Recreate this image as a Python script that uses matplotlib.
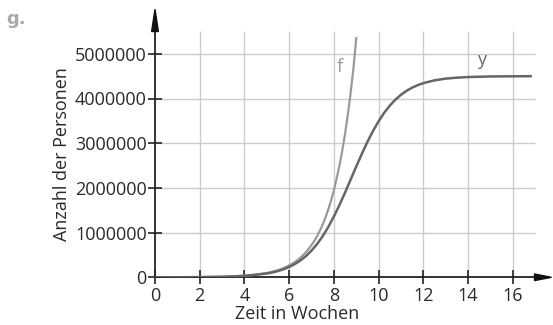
import matplotlib
matplotlib.use("Agg")
import matplotlib.pyplot as plt
from matplotlib.patches import Polygon

# Weeks and case counts for the exponential model f
f_weeks = [0, 1, 2, 3, 4, 4.5, 5, 5.25, 5.5, 5.75, 6, 6.25, 6.5, 6.75, 7, 7.125, 7.25,
           7.375, 7.5, 7.625, 7.75, 7.875, 8, 8.125, 8.25, 8.375, 8.5, 8.625, 8.75,
           8.875, 9.0]
f_people = [650, 1800, 4800, 13000, 36000, 58900, 97000, 124600, 160000, 205500,
            265000, 338900, 435000, 558700, 720000, 812900, 920000, 1044000, 1180000,
            1340000, 1520000, 1721000, 1950000, 2210000, 2500000, 2837000, 3210000,
            3643000, 4130000, 4678000, 5350000]

# Weeks and case counts for the logistic model y
y_weeks = [0, 1, 2, 3, 4, 5, 5.25, 5.5, 5.75, 6, 6.25, 6.5, 6.75, 7, 7.25, 7.5, 7.75,
           8, 8.25, 8.5, 8.75, 9, 9.25, 9.5, 9.75, 10, 10.25, 10.5, 10.75, 11, 11.25,
           11.5, 11.75, 12, 12.5, 13, 13.5, 14, 15, 16, 16.8]
y_people = [470, 1340, 3800, 10700, 30200, 84400, 109000, 140000, 180100, 231000,
            294900, 375000, 474700, 597000, 745000, 920000, 1126000, 1360000, 1618000,
            1896000, 2186000, 2478000, 2761000, 3030000, 3274000, 3490000, 3681000,
            3840000, 3974000, 4083000, 4172000, 4243000, 4299000, 4344000, 4406000,
            4444000, 4466000, 4480000, 4493000, 4497000, 4499000]

x_ticks = [0, 2, 4, 6, 8, 10, 12, 14, 16]
y_ticks = [0, 1000000, 2000000, 3000000, 4000000, 5000000]
y_tick_labels = ["0", "1000000", "2000000", "3000000", "4000000", "5000000"]

W, H = 553, 325
plt.rcParams["font.family"] = ["Open Sans", "DejaVu Sans"]
fig = plt.figure(figsize=(W / 100, H / 100), dpi=100)

left, right, bottom, top = 155, 553, 47.7, 320
ax = fig.add_axes([left / W, bottom / H, (right - left) / W, (top - bottom) / H])
px_x = 22.36      # pixels per week
px_y = 44.7e-6    # pixels per person
ax.set_xlim(0, (right - left) / px_x)
ax.set_ylim(0, (top - bottom) / px_y)

grid_c = "#cccccc"
x_end, y_end = 17, 5500000
for xv in x_ticks[1:]:
    ax.plot([xv, xv], [0, y_end], color=grid_c, lw=1.0, zorder=1, solid_capstyle="butt")
for yv in y_ticks[1:]:
    ax.plot([0, x_end], [yv, yv], color=grid_c, lw=1.0, zorder=1, solid_capstyle="butt")

ax.plot(f_weeks, f_people, color="#9a9a9a", lw=1.6, zorder=3)
ax.plot(y_weeks, y_people, color="#666666", lw=1.8, zorder=3)

ax.text(8.27, 4700000, "f", color="#9a9a9a", fontsize=13, ha="center", va="center")
ax.text(14.6, 4860000, "y", color="#666666", fontsize=13, ha="center", va="center")

for s in ["top", "right"]:
    ax.spines[s].set_visible(False)
for s in ["left", "bottom"]:
    ax.spines[s].set_linewidth(1.3)
    ax.spines[s].set_color("#222222")
ax.spines["left"].set_bounds(0, (277.3 - 20) / 44.7 * 1e6)
ax.spines["bottom"].set_bounds(0, (540 - left) / px_x)

ax.set_xticks(x_ticks)
ax.set_xticklabels([str(v) for v in x_ticks])
ax.set_yticks(y_ticks)
ax.set_yticklabels(y_tick_labels)
ax.tick_params(axis="both", direction="inout", length=10, width=1.2, color="#222222",
               labelsize=13, labelcolor="#2a2a2a")
ax.tick_params(axis="x", pad=2)
ax.tick_params(axis="y", pad=1)

# arrowheads at the ends of both axes, in axes-fraction units
aw, ah = right - left, top - bottom
ytip = (325 - 9.3 - bottom) / ah
ybase = (325 - 31.5 - bottom) / ah
hw = 3.4 / aw
ax.add_patch(Polygon([[0, ytip], [-hw, ybase], [hw, ybase]], closed=True,
                     transform=ax.transAxes, color="#111111", clip_on=False, zorder=5))
xtip = (551.5 - left) / aw
xbase = (534.5 - left) / aw
hh = 3.3 / ah
ax.add_patch(Polygon([[xtip, 0], [xbase, -hh], [xbase, hh]], closed=True,
                     transform=ax.transAxes, color="#111111", clip_on=False, zorder=5))

fig.text(26 / W, 1 - 24 / H, "g.", fontsize=13, fontweight="bold", color="#a8a8a8",
         family="DejaVu Sans", ha="right", va="baseline")

fig.text(297 / W, 1 - 314 / H, "Zeit in Wochen", fontsize=13, color="#2a2a2a",
         ha="center", va="center")
fig.text(62 / W, 1 - 154 / H, "Anzahl der Personen", fontsize=13, color="#2a2a2a",
         ha="center", va="center", rotation=90)

fig.savefig("out.png", dpi=100)
